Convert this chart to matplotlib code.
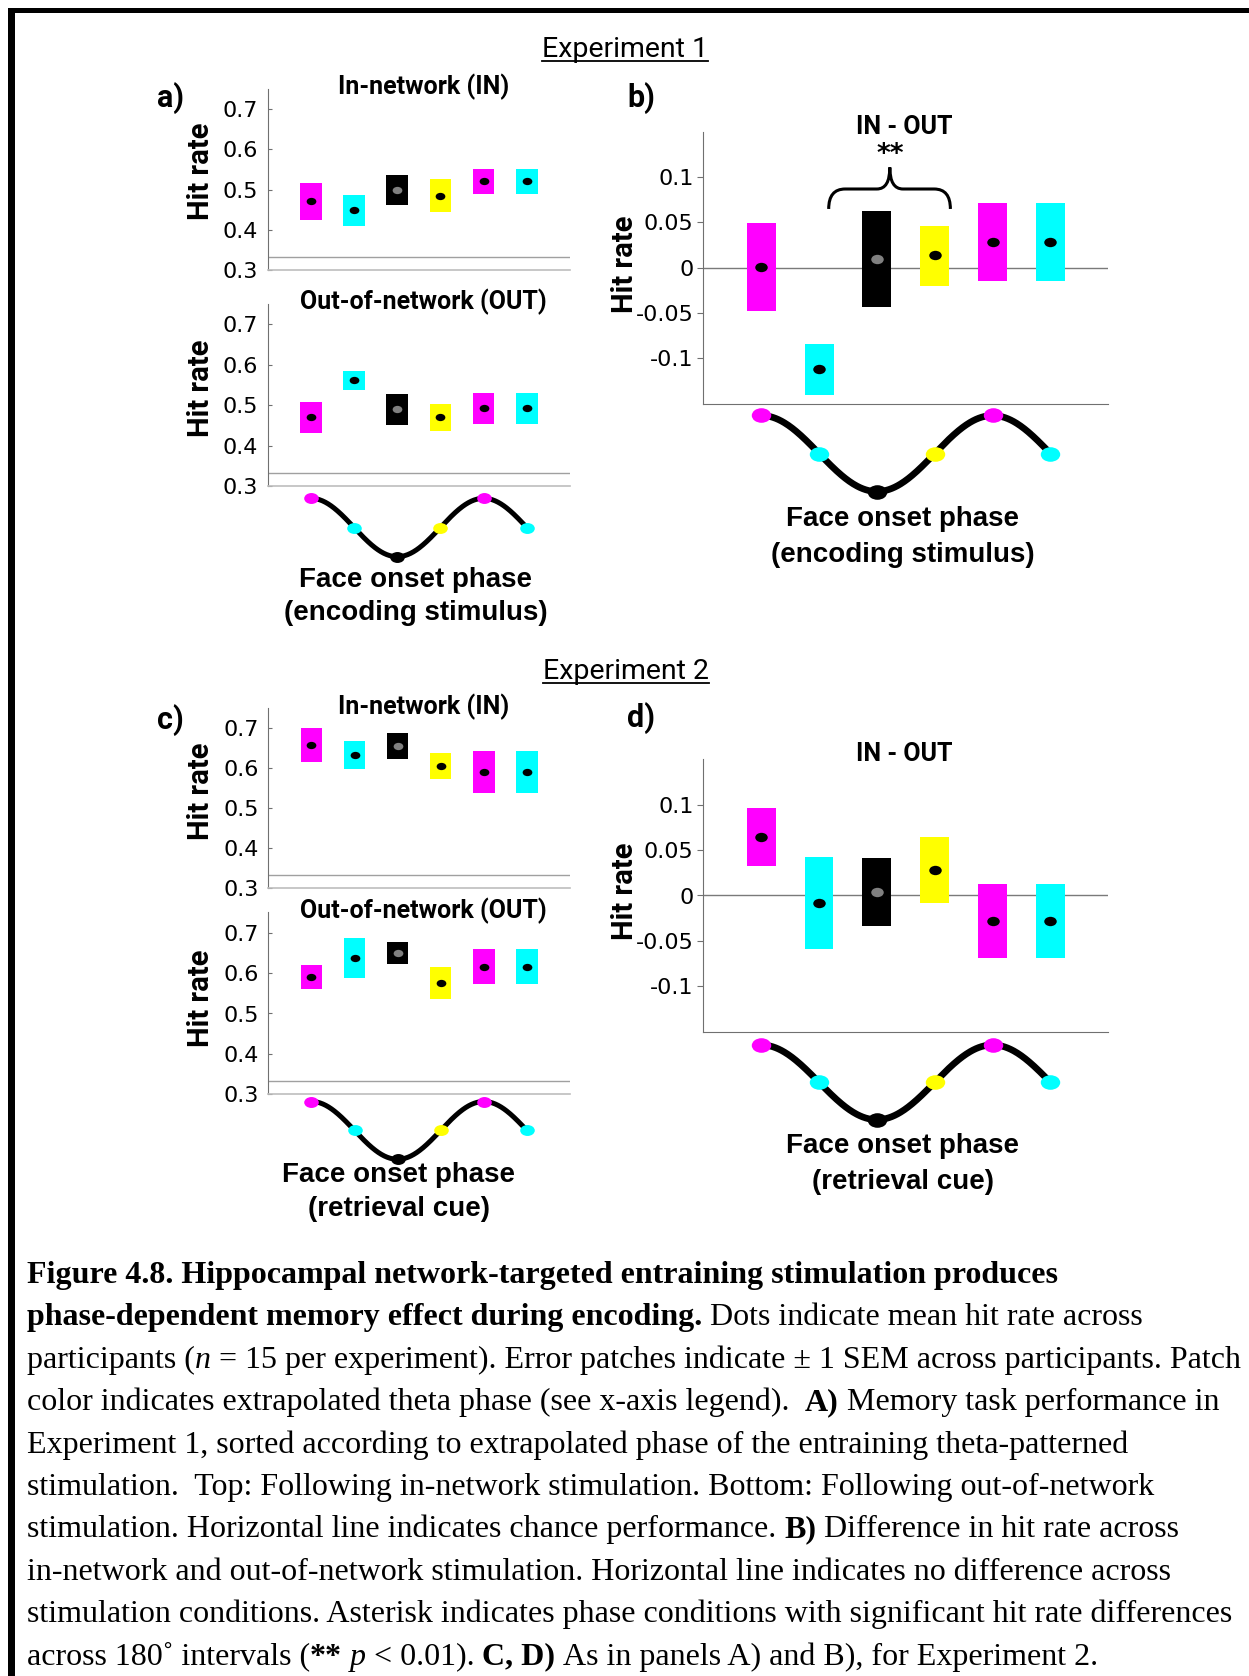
import numpy as np
import matplotlib
matplotlib.use("Agg")
import matplotlib.pyplot as plt
from matplotlib.path import Path
from matplotlib.patches import PathPatch, Rectangle
from matplotlib.lines import Line2D

# ---------------- data ----------------
phase_colors = ['#FF00FF', '#00FFFF', '#000000', '#FFFF00', '#FF00FF', '#00FFFF']
dot_colors = ['black', 'black', '#808080', 'black', 'black', 'black']
phase_deg = [0, 90, 180, 270, 360, 450]
positions = [1, 2, 3, 4, 5, 6]

exp1_in_mean = [0.471, 0.449, 0.499, 0.484, 0.521, 0.521]
exp1_in_lo = [0.425, 0.411, 0.462, 0.444, 0.490, 0.490]
exp1_in_hi = [0.5165, 0.487, 0.536, 0.526, 0.552, 0.552]

exp1_out_mean = [0.470, 0.5615, 0.490, 0.471, 0.492, 0.492]
exp1_out_lo = [0.431, 0.537, 0.451, 0.436, 0.453, 0.453]
exp1_out_hi = [0.507, 0.585, 0.527, 0.504, 0.530, 0.530]

exp1_diff_mean = [0.001, -0.112, 0.0095, 0.0136, 0.0286, 0.0286]
exp1_diff_lo = [-0.0476, -0.1407, -0.0436, -0.0198, -0.015, -0.015]
exp1_diff_hi = [0.0495, -0.0839, 0.0626, 0.0462, 0.0718, 0.0718]

exp2_in_mean = [0.656, 0.631, 0.654, 0.604, 0.589, 0.589]
exp2_in_lo = [0.614, 0.596, 0.622, 0.573, 0.536, 0.536]
exp2_in_hi = [0.698, 0.667, 0.687, 0.637, 0.641, 0.641]

exp2_out_mean = [0.590, 0.638, 0.650, 0.575, 0.616, 0.616]
exp2_out_lo = [0.561, 0.589, 0.622, 0.535, 0.572, 0.572]
exp2_out_hi = [0.619, 0.688, 0.678, 0.615, 0.660, 0.660]

exp2_diff_mean = [0.0647, -0.008, 0.0037, 0.0285, -0.0278, -0.0278]
exp2_diff_lo = [0.0325, -0.0592, -0.0333, -0.0084, -0.0687, -0.0687]
exp2_diff_hi = [0.0969, 0.0428, 0.041, 0.0647, 0.0132, 0.0132]

chance_level = 1 / 3
hit_ticks = [0.3, 0.4, 0.5, 0.6, 0.7]
hit_ticklabels = ['0.3', '0.4', '0.5', '0.6', '0.7']
diff_ticks = [-0.1, -0.05, 0, 0.05, 0.1]
diff_ticklabels = ['-0.1', '-0.05', '0', '0.05', '0.1']

caption_lines = [
    [("Figure 4.8. Hippocampal network-targeted entraining stimulation produces", 'bold', 'normal')],
    [("phase-dependent memory effect during encoding.", 'bold', 'normal'),
     (" Dots indicate mean hit rate across", 'normal', 'normal')],
    [("participants (", 'normal', 'normal'), ("n", 'normal', 'italic'),
     (" = 15 per experiment). Error patches indicate \u00b1 1 SEM across participants. Patch", 'normal', 'normal')],
    [("color indicates extrapolated theta phase (see x-axis legend).  ", 'normal', 'normal'),
     ("A)", 'bold', 'normal'), (" Memory task performance in", 'normal', 'normal')],
    [("Experiment 1, sorted according to extrapolated phase of the entraining theta-patterned", 'normal', 'normal')],
    [("stimulation.  Top: Following in-network stimulation. Bottom: Following out-of-network", 'normal', 'normal')],
    [("stimulation. Horizontal line indicates chance performance. ", 'normal', 'normal'),
     ("B)", 'bold', 'normal'), (" Difference in hit rate across", 'normal', 'normal')],
    [("in-network and out-of-network stimulation. Horizontal line indicates no difference across", 'normal', 'normal')],
    [("stimulation conditions. Asterisk indicates phase conditions with significant hit rate differences", 'normal', 'normal')],
    [("across 180\u02da intervals (", 'normal', 'normal'), ("**", 'bold', 'normal'),
     (" ", 'normal', 'normal'), ("p", 'normal', 'italic'), (" < 0.01). ", 'normal', 'normal'),
     ("C, D)", 'bold', 'normal'), (" As in panels A) and B), for Experiment 2.", 'normal', 'normal')],
]

# ---------------- figure ----------------
W, H = 1249, 1676
fig = plt.figure(figsize=(W / 100, H / 100), dpi=100)
fig.patch.set_facecolor('white')

def px_axes(l, t, r, b):
    return fig.add_axes([l / W, 1 - b / H, (r - l) / W, (b - t) / H])

circ = Path.unit_circle()
ell_marker = Path(circ.vertices * np.array([1.0, 0.75]), circ.codes)

TICK_FONT = dict(family='DejaVu Sans', size=16)
BOLD_FONT = 'Roboto'

def bar_panel(rect, mean, lo, hi, ylim, ticks, ticklabels, diff=False, dot_ms=7):
    ax = px_axes(*rect)
    lo = np.array(lo); hi = np.array(hi)
    ax.bar(positions, hi - lo, bottom=lo, width=0.5, color=phase_colors, edgecolor='none', zorder=2)
    for xp, m, dc in zip(positions, mean, dot_colors):
        ax.plot(xp, m, marker=ell_marker, ms=dot_ms, color=dc, mec='none', zorder=3)
    ax.set_xlim(0, 7)
    ax.set_ylim(*ylim)
    ax.set_xticks([])
    ax.set_yticks(ticks)
    ax.set_yticklabels(ticklabels, fontdict=TICK_FONT)
    for s in ['top', 'right']:
        ax.spines[s].set_visible(False)
    if diff:
        ax.axhline(0, color='#7a7a7a', lw=1.0, zorder=1)
        ax.spines['left'].set_color('#707070')
        ax.spines['bottom'].set_color('#707070')
        ax.tick_params(axis='y', direction='out', length=4, width=0.8, color='#707070', pad=3)
    else:
        ax.axhline(chance_level, color='#a0a0a0', lw=1.0, zorder=1)
        ax.spines['left'].set_color('#707070')
        ax.spines['bottom'].set_color('#bdbdbd')
        ax.spines['bottom'].set_linewidth(1.2)
        ax.tick_params(axis='y', direction='in', length=3, width=0.8, color='#707070', pad=7)
    ax.patch.set_alpha(0)
    return ax

def wave(l, r, cy, amp, lw, ms):
    ax = px_axes(l, cy - 1.35 * amp, r, cy + 1.35 * amp)
    ax.set_xlim(0, 7)
    ax.set_ylim(-1.35, 1.35)
    xf = np.linspace(positions[0], positions[-1], 300)
    ph = np.interp(xf, positions, phase_deg)
    ax.plot(xf, np.cos(np.deg2rad(ph)), color='black', lw=lw, solid_capstyle='round', zorder=1)
    for xp, p, c in zip(positions, phase_deg, phase_colors):
        ax.plot(xp, np.cos(np.deg2rad(p)), marker=ell_marker, ms=ms, color=c, mec='none', zorder=2)
    ax.axis('off')
    return ax

def ftext(x, y, s, **kw):
    return fig.text(x / W, 1 - y / H, s, **kw)

# Panel geometry (pixel boxes)
A_IN = (267.7, 270.3 - 0.45 * 403, 570, 270.3)
A_OUT = (267.7, 486 - 0.45 * 404, 570, 486)
C_IN = (268.3, 888 - 0.45 * 401, 570, 888)
C_OUT = (268.3, 1094.3 - 0.45 * 404, 570, 1094.3)
B_BOX = (703.4, 131.7, 1108.3, 403.7)
D_BOX = (703.3, 759.3, 1108.3, 1031.7)

bar_panel(A_IN, exp1_in_mean, exp1_in_lo, exp1_in_hi, (0.3, 0.75), hit_ticks, hit_ticklabels)
bar_panel(A_OUT, exp1_out_mean, exp1_out_lo, exp1_out_hi, (0.3, 0.75), hit_ticks, hit_ticklabels)
axb = bar_panel(B_BOX, exp1_diff_mean, exp1_diff_lo, exp1_diff_hi, (-0.15, 0.15), diff_ticks, diff_ticklabels,
                diff=True, dot_ms=9)
bar_panel(C_IN, exp2_in_mean, exp2_in_lo, exp2_in_hi, (0.3, 0.75), hit_ticks, hit_ticklabels)
bar_panel(C_OUT, exp2_out_mean, exp2_out_lo, exp2_out_hi, (0.3, 0.75), hit_ticks, hit_ticklabels)
bar_panel(D_BOX, exp2_diff_mean, exp2_diff_lo, exp2_diff_hi, (-0.15, 0.15), diff_ticks, diff_ticklabels,
          diff=True, dot_ms=9)

# significance brace in panel b
verts = [(2.166, 0.0648), (2.166, 0.0868), (2.45, 0.0868), (3.0, 0.0868), (3.223, 0.0868), (3.223, 0.1106),
         (3.223, 0.0868), (3.45, 0.0868), (3.99, 0.0868), (4.27, 0.0868), (4.27, 0.0648)]
codes = [Path.MOVETO, Path.CURVE3, Path.CURVE3, Path.LINETO, Path.CURVE3, Path.CURVE3,
         Path.CURVE3, Path.CURVE3, Path.LINETO, Path.CURVE3, Path.CURVE3]
axb.add_patch(PathPatch(Path(verts, codes), facecolor='none', edgecolor='black', lw=2.2, clip_on=False))
axb.text(3.223, 0.1245, '**', ha='center', va='center', family='DejaVu Sans', weight='bold', fontsize=19)

# phase legends (waves)
wave(A_IN[0], A_IN[2], 527.5, 29.2, 3.6, 10.5)
wave(B_BOX[0], B_BOX[2], 453.5, 38.0, 4.8, 14)
wave(C_IN[0], C_IN[2], 1130.4, 28.9, 3.6, 10.5)
wave(D_BOX[0], D_BOX[2], 1082.3, 37.4, 4.8, 14)

# texts
TITLE = dict(family=BOLD_FONT, weight='bold', fontsize=18, ha='center', va='center')
ftext(423.3, 86.7, 'In-network (IN)', **TITLE)
ftext(423.7, 301.7, 'Out-of-network (OUT)', **TITLE)
ftext(904.3, 126.7, 'IN - OUT', **TITLE)
ftext(423.3, 706.7, 'In-network (IN)', **TITLE)
ftext(423.7, 910.7, 'Out-of-network (OUT)', **TITLE)
ftext(904.5, 753.7, 'IN - OUT', **TITLE)

YL = dict(family=BOLD_FONT, weight='bold', fontsize=21, ha='center', va='center', rotation=90)
ftext(200.7, 171.7, 'Hit rate', **YL)
ftext(200.7, 388.3, 'Hit rate', **YL)
ftext(624.7, 264, 'Hit rate', **YL)
ftext(200.7, 791.7, 'Hit rate', **YL)
ftext(200.7, 998.3, 'Hit rate', **YL)
ftext(624.7, 891.7, 'Hit rate', **YL)

PL = dict(family=BOLD_FONT, weight='bold', fontsize=22, ha='center', va='center')
ftext(171, 98.3, 'a)', **PL)
ftext(641, 98, 'b)', **PL)
ftext(170, 720, 'c)', **PL)
ftext(641, 718, 'd)', **PL)

XL = dict(family='Liberation Sans', weight='bold', fontsize=20, ha='center', va='center')
ftext(415.6, 580, 'Face onset phase', **XL)
ftext(415.6, 613, '(encoding stimulus)', **XL)
ftext(902.8, 519, 'Face onset phase', **XL)
ftext(902.8, 554.5, '(encoding stimulus)', **XL)
ftext(398.5, 1175.2, 'Face onset phase', **XL)
ftext(398.5, 1209.4, '(retrieval cue)', **XL)
ftext(902.8, 1146.4, 'Face onset phase', **XL)
ftext(902.8, 1181.6, '(retrieval cue)', **XL)

renderer = fig.canvas.get_renderer()

def underlined(x, y_base, s):
    t = ftext(x, y_base, s, family='Roboto', fontsize=20.5, ha='center', va='baseline')
    bb = t.get_window_extent(renderer=renderer)
    yl = y_base + 4
    fig.add_artist(Line2D([bb.x0 / W, bb.x1 / W], [1 - yl / H, 1 - yl / H], color='black', lw=1.3))

underlined(625, 57, 'Experiment 1')
underlined(626, 679, 'Experiment 2')

# caption
CAP_FAMILY = 'Liberation Serif'

def seg_width(txt, size, weight, style):
    t = fig.text(0, 0, txt, family=CAP_FAMILY, fontsize=size, weight=weight, style=style)
    w = t.get_window_extent(renderer=renderer).width
    t.remove()
    return w

def space_width(size, weight, style):
    return seg_width('a a', size, weight, style) - seg_width('aa', size, weight, style)

def split_spaces(txt):
    core = txt.strip(' ')
    if not core:
        return len(txt), '', 0
    lead = len(txt) - len(txt.lstrip(' '))
    trail = len(txt) - len(txt.rstrip(' '))
    return lead, core, trail

def line_width(segs, size):
    total = 0
    for txt, wgt, sty in segs:
        lead, core, trail = split_spaces(txt)
        sp = space_width(size, wgt, sty)
        total += (lead + trail) * sp
        if core:
            total += seg_width(core, size, wgt, sty)
    return total

ref_size = 20.0
target = 1239.4 - 26.7
cap_size = ref_size * target / line_width(caption_lines[2], ref_size)

def rich_line(x, y, segs, size):
    for txt, wgt, sty in segs:
        lead, core, trail = split_spaces(txt)
        sp = space_width(size, wgt, sty)
        x += lead * sp
        if core:
            t = ftext(x, y, core, family=CAP_FAMILY, fontsize=size, weight=wgt, style=sty,
                      ha='left', va='baseline')
            x += t.get_window_extent(renderer=renderer).width
        x += trail * sp

for i, segs in enumerate(caption_lines):
    rich_line(26.7, 1283 + 42.4 * i, segs, cap_size)

# frame lines (top and left)
fig.add_artist(Rectangle((8 / W, 0), 7 / W, 1 - 8 / H, transform=fig.transFigure, color='black', lw=0))
fig.add_artist(Rectangle((8 / W, 1 - 13 / H), 1 - 8 / W, 5 / H, transform=fig.transFigure, color='black', lw=0))

fig.savefig('out.png', dpi=100, facecolor='white')
